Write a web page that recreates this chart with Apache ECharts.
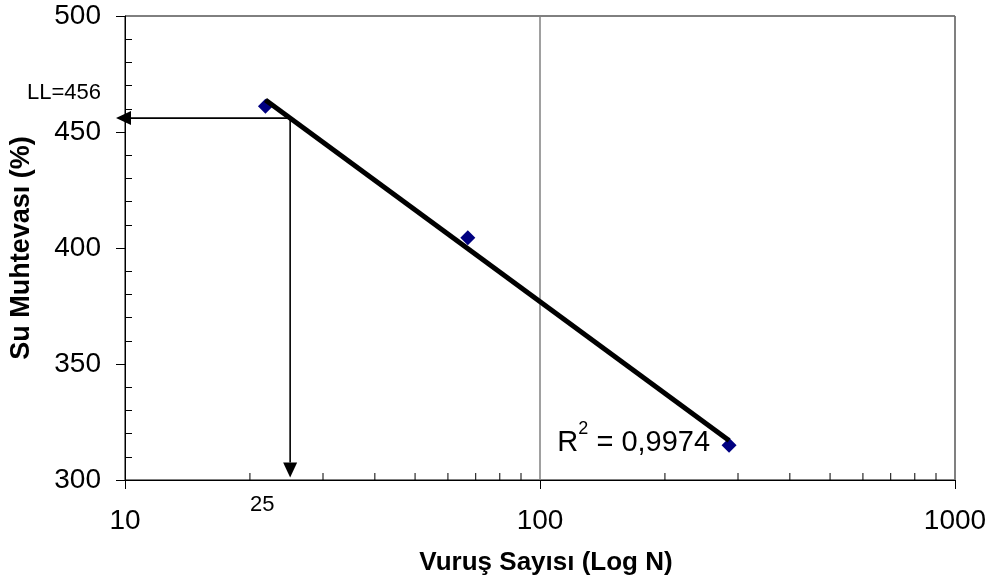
<!DOCTYPE html>
<html>
<head>
<meta charset="utf-8">
<script src="https://cdn.jsdelivr.net/npm/echarts@6/dist/echarts.min.js"></script>
<style>
  html, body { margin: 0; padding: 0; background: #fff; }
  #chart { width: 993px; height: 585px; }
</style>
</head>
<body>
<div id="chart"></div>
<script>
// Casagrande liquid-limit test: water content vs. number of blows (log scale)
const blowsN = [21.8, 67.0, 285.5];          // Vuruş sayısı
const waterContent = [461.1, 404.4, 315.0];  // Su muhtevası (%)

// Fitted flow line end points
const trendN = [21.8, 285.5];
const trendW = [463.8, 317.0];
const r2Text = '0,9974';

// Liquid limit read at 25 blows
const llN = 25;
const llValue = 456;

// Minor ticks of the logarithmic x axis
const minorTicksN = [20, 30, 40, 50, 60, 70, 80, 90, 200, 300, 400, 500, 600, 700, 800, 900];

const FONT = 'Liberation Sans, Arial, sans-serif';
const chart = echarts.init(document.getElementById('chart'), null, { renderer: 'canvas' });

const X_MIN = 10, X_MAX = 1000, Y_MIN = 300, Y_MAX = 500;

chart.setOption({
  animation: false,
  backgroundColor: '#fff',
  grid: {
    left: 123, right: 38, top: 16, bottom: 105,
    show: true, borderColor: '#000', borderWidth: 1, backgroundColor: 'transparent'
  },
  xAxis: {
    type: 'log', logBase: 10, min: X_MIN, max: X_MAX,
    name: 'Vuruş Sayısı (Log N)',
    nameLocation: 'middle', nameGap: 70,
    nameTextStyle: { fontFamily: FONT, fontSize: 26, fontWeight: 'bold', color: '#000', padding: [0, 0, 0, 12] },
    axisLine: { show: true, lineStyle: { color: '#000', width: 1 } },
    axisTick: { show: true, length: 9, lineStyle: { color: '#000', width: 1 } },
    axisLabel: { fontFamily: FONT, fontSize: 28, color: '#000', margin: 27, formatter: v => String(v) },
    splitLine: { show: true, lineStyle: { color: '#808080', width: 1.5 } },
    minorTick: { show: false }
  },
  yAxis: {
    type: 'value', min: Y_MIN, max: Y_MAX, interval: 50,
    name: 'Su Muhtevası (%)',
    nameLocation: 'middle', nameGap: 90, nameRotate: 90,
    nameTextStyle: { fontFamily: FONT, fontSize: 27, fontWeight: 'bold', color: '#000' },
    axisLine: { show: true, lineStyle: { color: '#000', width: 1 } },
    axisTick: { show: true, length: 9, lineStyle: { color: '#000', width: 1 } },
    minorTick: { show: true, splitNumber: 5, length: -7, lineStyle: { color: '#000', width: 1 } },
    axisLabel: { fontFamily: FONT, fontSize: 28, color: '#000', margin: 24 },
    splitLine: { show: false }
  },
  series: [
    {
      // minor ticks at 20..90 and 200..900, pointing into the plot
      type: 'custom', name: 'minorTicks', silent: true, z: 1,
      data: minorTicksN.map(v => [v, Y_MIN]),
      renderItem: function (params, api) {
        const p = api.coord([api.value(0), api.value(1)]);
        return {
          type: 'line',
          shape: { x1: p[0], y1: p[1], x2: p[0], y2: p[1] - 7 },
          style: { stroke: '#000', lineWidth: 1 }
        };
      }
    },
    {
      type: 'scatter', name: 'Deney', z: 2,
      symbol: 'diamond', symbolSize: 15,
      itemStyle: { color: '#000080', opacity: 1 },
      data: blowsN.map((n, i) => [n, waterContent[i]])
    },
    {
      type: 'line', name: 'Akış eğrisi', z: 3,
      showSymbol: false, symbol: 'none',
      lineStyle: { color: '#000', width: 5 },
      data: trendN.map((n, i) => [n, trendW[i]])
    },
    {
      // liquid limit construction: arrows from the flow line to both axes
      type: 'custom', name: 'LL', silent: true, z: 4, clip: false,
      data: [[llN, llValue]],
      renderItem: function (params, api) {
        const n = api.value(0), w = api.value(1);
        const p = api.coord([n, w]);
        const axisX = api.coord([X_MIN, w])[0];
        const axisY = api.coord([n, Y_MIN])[1];
        const tipX = axisX - 9;
        const tipY = axisY - 2.5;
        const head = 15, half = 7;
        return {
          type: 'group',
          children: [
            {
              type: 'polyline',
              shape: { points: [[tipX + head, p[1]], [p[0], p[1]], [p[0], tipY - head]] },
              style: { stroke: '#000', lineWidth: 1.6, fill: 'none' }
            },
            {
              type: 'polygon',
              shape: { points: [[tipX, p[1]], [tipX + head, p[1] - half], [tipX + head, p[1] + half]] },
              style: { fill: '#000' }
            },
            {
              type: 'polygon',
              shape: { points: [[p[0], tipY], [p[0] - half, tipY - head], [p[0] + half, tipY - head]] },
              style: { fill: '#000' }
            },
            {
              type: 'text', x: axisX - 24, y: p[1] - 25,
              style: { text: 'LL=' + w, align: 'right', verticalAlign: 'middle',
                       fontFamily: FONT, fontSize: 22, fill: '#000' }
            },
            {
              type: 'text', x: p[0] - 28, y: axisY + 25,
              style: { text: String(n), align: 'center', verticalAlign: 'middle',
                       fontFamily: FONT, fontSize: 22, fill: '#000' }
            }
          ]
        };
      }
    },
    {
      // coefficient of determination of the flow line
      type: 'custom', name: 'R2', silent: true, z: 4, clip: false,
      data: [[trendN[1], trendW[1]]],
      renderItem: function (params, api) {
        const p = api.coord([api.value(0), api.value(1)]);
        return {
          type: 'text', x: p[0] - 19, y: p[1] - 2,
          style: {
            text: '{r|R}{s|2}{r| = ' + r2Text + '}',
            align: 'right', verticalAlign: 'middle',
            rich: {
              r: { fontFamily: FONT, fontSize: 29, lineHeight: 38, verticalAlign: 'bottom', fill: '#000' },
              s: { fontFamily: FONT, fontSize: 18, lineHeight: 18, verticalAlign: 'top', fill: '#000' }
            }
          }
        };
      }
    }
  ]
});
</script>
</body>
</html>
